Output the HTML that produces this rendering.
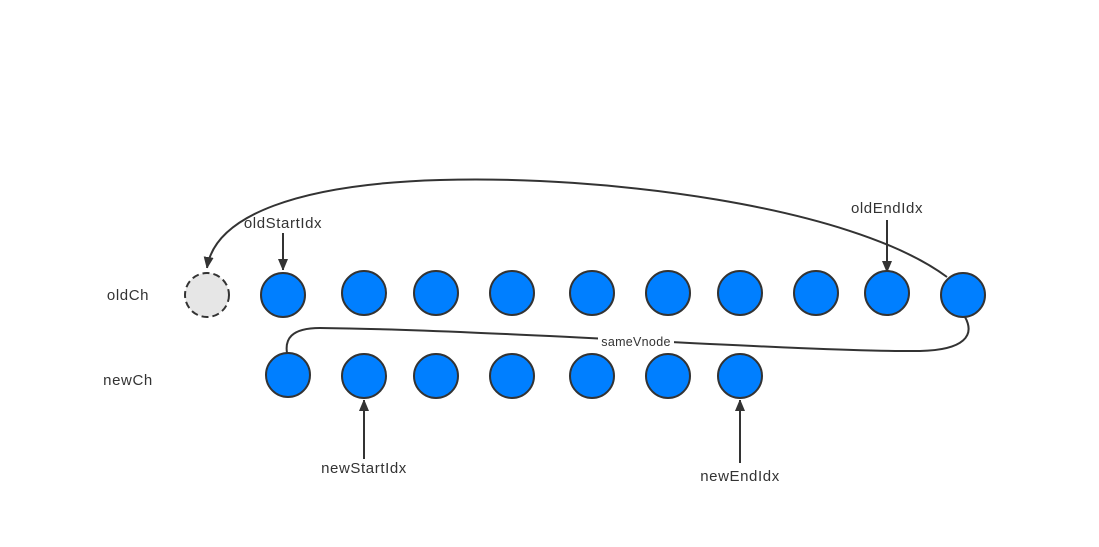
<!DOCTYPE html>
<html><head><meta charset="utf-8"><style>
html,body{margin:0;padding:0;background:#fff;}
svg{display:block;}
text{font-family:"Liberation Sans","Noto Sans CJK SC",sans-serif;fill:#333;}
</style></head><body>
<svg width="1099" height="547" viewBox="0 0 1099 547">
<defs>
<marker id="ah" markerWidth="10" markerHeight="12" refX="11" refY="5" orient="auto" markerUnits="userSpaceOnUse">
<path d="M0,0 L12,5 L0,10 Z" fill="#333"/>
</marker>
</defs>
<path d="M947,277 C850,205 600,175 440,180 C300,184 215,215 207,268" fill="none" stroke="#333" stroke-width="2" marker-end="url(#ah)"/>
<path d="M965,317 C975,335 965,350 920,351 C800,352 500,330 320,328 C290,328 285,340 287,353" fill="none" stroke="#333" stroke-width="2"/>
<rect x="598" y="333" width="76" height="16" fill="#fff"/>
<text x="636" y="346" font-size="12.5" text-anchor="middle" letter-spacing="0.3">sameVnode</text>

<circle cx="207" cy="295" r="22" fill="#e6e6e6" stroke="#333" stroke-width="2" stroke-dasharray="7,4"/>
<g fill="#007fff" stroke="#333" stroke-width="2">
<circle cx="283" cy="295" r="22"/><circle cx="364" cy="293" r="22"/><circle cx="436" cy="293" r="22"/>
<circle cx="512" cy="293" r="22"/><circle cx="592" cy="293" r="22"/><circle cx="668" cy="293" r="22"/>
<circle cx="740" cy="293" r="22"/><circle cx="816" cy="293" r="22"/><circle cx="887" cy="293" r="22"/>
<circle cx="963" cy="295" r="22"/>
<circle cx="288" cy="375" r="22"/><circle cx="364" cy="376" r="22"/><circle cx="436" cy="376" r="22"/>
<circle cx="512" cy="376" r="22"/><circle cx="592" cy="376" r="22"/><circle cx="668" cy="376" r="22"/>
<circle cx="740" cy="376" r="22"/>
</g>
<g stroke="#333" stroke-width="2" fill="none" marker-end="url(#ah)">
<line x1="283" y1="233" x2="283" y2="270"/>
<line x1="887" y1="220" x2="887" y2="272"/>
<line x1="364" y1="459" x2="364" y2="400"/>
<line x1="740" y1="463" x2="740" y2="400"/>
</g>
<g font-size="15" letter-spacing="0.6">
<text x="283" y="228" text-anchor="middle">oldStartIdx</text>
<text x="887" y="213" text-anchor="middle">oldEndIdx</text>
<text x="364" y="473" text-anchor="middle">newStartIdx</text>
<text x="740" y="481" text-anchor="middle">newEndIdx</text>
<text x="128" y="300" text-anchor="middle">oldCh</text>
<text x="128" y="385" text-anchor="middle">newCh</text>
</g>
</svg>
</body></html>
